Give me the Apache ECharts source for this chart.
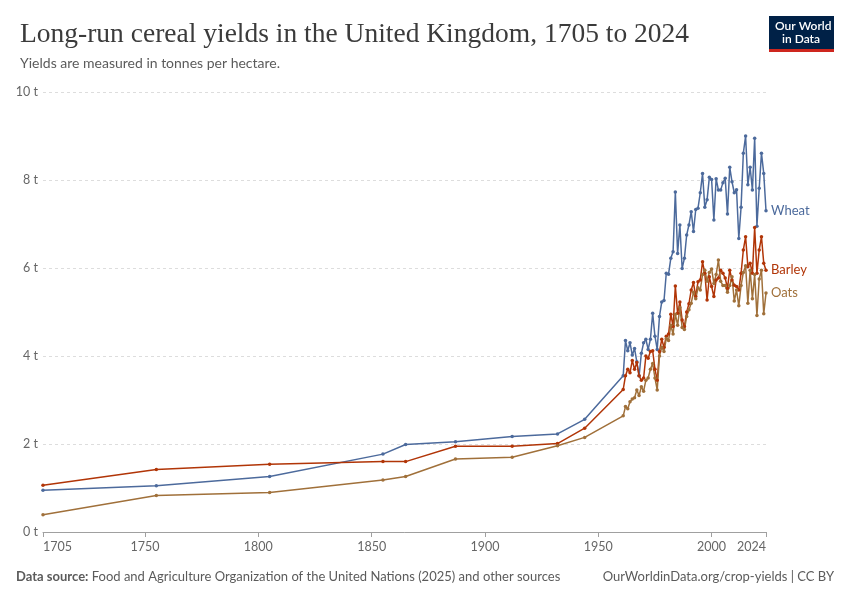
<!DOCTYPE html>
<html>
<head>
<meta charset="utf-8">
<script src="https://cdn.jsdelivr.net/npm/echarts@6/dist/echarts.min.js"></script>
<style>
  html, body { margin: 0; padding: 0; background: #fff; }
  #chart { width: 850px; height: 600px; }
</style>
</head>
<body>
<div id="chart"></div>
<script>
// ---- Data (tonnes per hectare) ----
const years = [1705, 1755, 1805, 1855, 1865, 1887, 1912, 1932, 1944,
  1961, 1962, 1963, 1964, 1965, 1966, 1967, 1968, 1969, 1970,
  1971, 1972, 1973, 1974, 1975, 1976, 1977, 1978, 1979, 1980,
  1981, 1982, 1983, 1984, 1985, 1986, 1987, 1988, 1989, 1990,
  1991, 1992, 1993, 1994, 1995, 1996, 1997, 1998, 1999, 2000,
  2001, 2002, 2003, 2004, 2005, 2006, 2007, 2008, 2009, 2010,
  2011, 2012, 2013, 2014, 2015, 2016, 2017, 2018, 2019, 2020,
  2021, 2022, 2023, 2024];

const wheat = [0.95, 1.05, 1.26, 1.77, 1.99, 2.05, 2.17, 2.23, 2.56,
  3.55, 4.35, 4.12, 4.30, 4.02, 4.17, 3.87, 3.55, 4.06, 4.30,
  4.38, 4.15, 4.38, 4.97, 4.45, 4.15, 4.90, 5.23, 5.26, 5.88,
  5.86, 6.22, 6.37, 7.73, 6.33, 6.98, 5.99, 6.22, 6.75, 6.98,
  7.28, 6.83, 7.33, 7.36, 7.71, 8.15, 7.38, 7.55, 8.06, 8.01,
  7.09, 8.03, 7.77, 7.77, 7.94, 8.04, 7.23, 8.29, 7.96, 7.71,
  7.78, 6.67, 7.38, 8.61, 9.00, 7.89, 8.29, 7.77, 8.95, 6.95,
  7.81, 8.61, 8.15, 7.30];

const barley = [1.06, 1.42, 1.54, 1.60, 1.60, 1.95, 1.95, 2.01, 2.36,
  3.24, 3.55, 3.70, 3.62, 3.90, 3.70, 3.85, 3.55, 3.45, 3.50,
  4.00, 3.95, 4.10, 4.12, 3.70, 3.45, 4.10, 4.38, 4.20, 4.45,
  4.50, 4.95, 4.67, 5.59, 4.97, 5.23, 4.82, 4.67, 5.00, 5.19,
  5.50, 5.67, 5.35, 5.69, 5.73, 6.14, 5.88, 5.27, 5.80, 5.58,
  5.35, 5.73, 5.77, 5.95, 5.88, 5.77, 5.54, 5.95, 5.73, 5.61,
  5.58, 5.50, 5.88, 6.41, 6.71, 6.03, 6.11, 5.88, 6.92, 5.88,
  6.41, 6.71, 6.11, 5.95];

const oats = [0.39, 0.83, 0.90, 1.18, 1.26, 1.66, 1.70, 1.96, 2.15,
  2.64, 2.85, 2.80, 2.96, 3.02, 3.05, 3.23, 3.10, 3.30, 3.20,
  3.45, 3.50, 3.70, 3.83, 3.50, 3.23, 4.00, 4.20, 4.10, 4.40,
  4.35, 4.70, 4.50, 4.95, 4.70, 5.10, 4.65, 4.60, 4.90, 5.05,
  5.20, 5.45, 5.30, 5.55, 5.50, 5.85, 5.95, 5.70, 5.90, 5.98,
  5.65, 5.85, 6.18, 5.70, 5.60, 5.60, 5.45, 5.60, 5.80, 5.25,
  5.50, 5.14, 5.60, 5.90, 6.05, 5.20, 5.95, 5.30, 5.85, 4.92,
  5.75, 5.95, 4.96, 5.43];

const xTickLabels = [1705, 1750, 1800, 1850, 1900, 1950, 2000, 2024];

const seriesDefs = [
  { name: 'Wheat', values: wheat, color: '#4c6a9c' },
  { name: 'Barley', values: barley, color: '#b13507' },
  { name: 'Oats', values: oats, color: '#a0703a' }
];

const chart = echarts.init(document.getElementById('chart'), null, { renderer: 'canvas' });

const FONT = 'Lato, "Noto Sans", sans-serif';

const option = {
  animation: false,
  backgroundColor: '#ffffff',
  title: {
    text: 'Long-run cereal yields in the United Kingdom, 1705 to 2024',
    left: 15,
    top: 16,
    textStyle: {
      fontFamily: '"Liberation Serif", "DejaVu Serif", serif',
      fontSize: 27.5,
      fontWeight: 'normal',
      color: '#3b3b3b'
    },
    subtext: 'Yields are measured in tonnes per hectare.',
    itemGap: 7,
    subtextStyle: {
      fontFamily: FONT,
      fontSize: 14,
      color: '#5b5b5b'
    }
  },
  grid: { left: 43, right: 84, top: 92, bottom: 68, containLabel: false },
  xAxis: {
    type: 'value',
    min: 1705,
    max: 2024,
    axisLine: { show: true, lineStyle: { color: '#a0a0a0', width: 1 } },
    axisTick: { show: true, customValues: xTickLabels, length: 5, lineStyle: { color: '#a0a0a0' } },
    splitLine: { show: false },
    axisLabel: {
      customValues: xTickLabels,
      alignMinLabel: 'left',
      alignMaxLabel: 'right',
      margin: 8,
      fontFamily: FONT,
      fontSize: 12.5,
      color: '#666666',
      formatter: v => String(v)
    }
  },
  yAxis: {
    type: 'value',
    min: 0,
    max: 10,
    interval: 2,
    axisLine: { show: false },
    axisTick: { show: false },
    axisLabel: {
      margin: 5,
      fontFamily: FONT,
      fontSize: 12.5,
      color: '#666666',
      formatter: v => v + ' t'
    },
    splitLine: { show: true, lineStyle: { color: '#dddddd', type: [3, 3], width: 1 } }
  },
  series: seriesDefs.map(s => ({
    name: s.name,
    type: 'line',
    data: years.map((y, i) => [y, s.values[i]]),
    symbol: 'circle',
    symbolSize: 3.5,
    showSymbol: true,
    lineStyle: { color: s.color, width: 1.5 },
    itemStyle: { color: s.color },
    emphasis: { disabled: true },
    endLabel: {
      show: true,
      formatter: '{a}',
      distance: 5,
      color: s.color,
      fontFamily: FONT,
      fontSize: 13
    },
    z: 3
  })),
  graphic: [
    { type: 'rect', left: 769, top: 16, shape: { width: 65, height: 35 }, style: { fill: '#002147' } },
    { type: 'rect', left: 769, top: 49, shape: { width: 65, height: 3 }, style: { fill: '#ce261e' } },
    { type: 'text', left: 775, top: 20, style: { text: 'Our World', fill: '#ffffff', font: '600 12px ' + FONT } },
    { type: 'text', left: 782, top: 33, style: { text: 'in Data', fill: '#ffffff', font: '600 12px ' + FONT } },
    {
      type: 'text', left: 16, top: 570,
      style: {
        text: '{b|Data source:} Food and Agriculture Organization of the United Nations (2025) and other sources',
        rich: { b: { fontWeight: 'bold', fontFamily: FONT, fontSize: 13, fill: '#5b5b5b' } },
        font: '13px ' + FONT, fill: '#5b5b5b'
      }
    },
    {
      type: 'text', right: 16, top: 570,
      style: { text: 'OurWorldinData.org/crop-yields | CC BY', font: '13px ' + FONT, fill: '#5b5b5b' }
    }
  ]
};

chart.setOption(option);
</script>
</body>
</html>
